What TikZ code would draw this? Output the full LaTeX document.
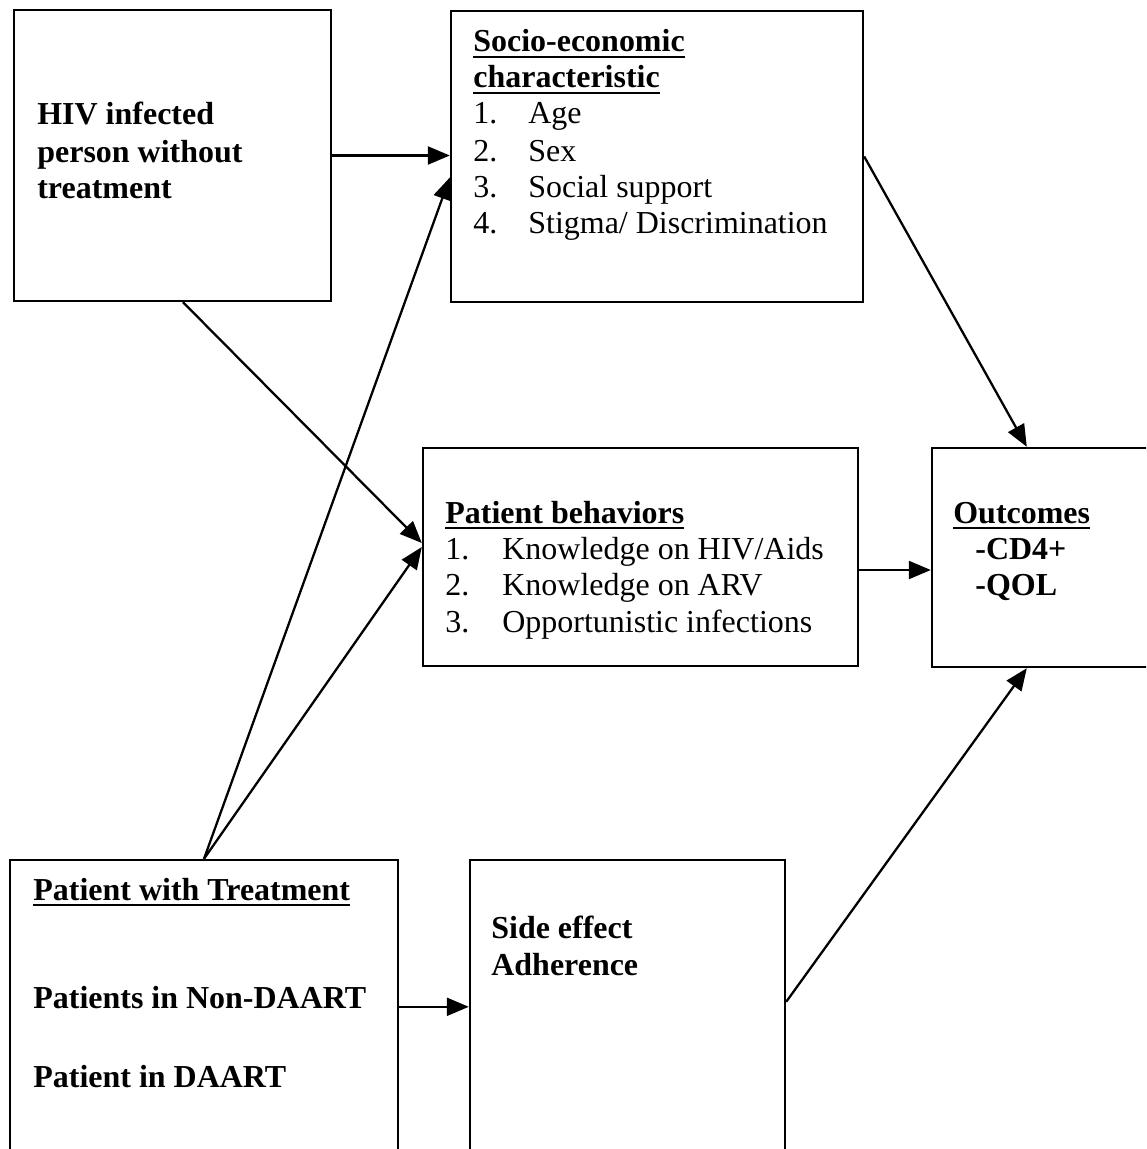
\documentclass[tikz,border=0pt]{standalone}
\usepackage{fontspec}
\setmainfont{Liberation Serif}
\usetikzlibrary{arrows.meta,calc}
\newcommand\hdul[1]{\sbox0{#1}\rlap{\rule[-3.6pt]{\wd0}{1.6pt}}\usebox0}
\begin{document}
\begin{tikzpicture}[x=0.02cm,y=-0.02cm,
  box/.style={draw, line width=1.4pt, inner sep=0},
  txt/.style={anchor=base west, inner sep=0, font=\fontsize{18.2}{21}\selectfont},
  btxt/.style={anchor=base west, inner sep=0, font=\fontsize{18.2}{21}\selectfont\bfseries},
  conn/.style={line width=1.3pt, -{Triangle[length=0.44cm,width=0.36cm]}}]
\useasboundingbox (0,0) rectangle (1146,1149);
\clip (0,0) rectangle (1146,1149);
% boxes
\node[box, minimum width=6.34cm, minimum height=5.82cm] (A) at (172.5,155.5) {};
\node[box, minimum width=8.24cm, minimum height=5.82cm] (B) at (657,156.5) {};
\node[box, minimum width=8.7cm, minimum height=4.36cm] (C) at (640.5,557) {};
\node[box, minimum width=4.76cm, minimum height=4.38cm] (D) at (1051,557.5) {};
\node[box, minimum width=7.76cm, minimum height=6.2cm] (E) at (204,1015) {};
\node[box, minimum width=6.3cm, minimum height=6.2cm] (F) at (627.5,1015) {};
% texts A
\node[btxt] (a1) at (37,125) {HIV infected};
\node[btxt] (a2) at (37,162) {person without};
\node[btxt] (a3) at (37,198) {treatment};
% texts B
\node[btxt] (b0) at (473,52) {\hdul{Socio-economic}};
\node[btxt] (b00) at (473,88) {\hdul{characteristic}};
\node[txt] (bn1) at (473,124) {1.};
\node[txt] (bi1) at (528,124) {Age};
\node[txt] (bn2) at (473,161) {2.};
\node[txt] (bi2) at (528,161) {Sex};
\node[txt] (bn3) at (473,197) {3.};
\node[txt] (bi3) at (528,197) {Social support};
\node[txt] (bn4) at (473,233) {4.};
\node[txt] (bi4) at (528,233) {Stigma/ Discrimination};
% texts C
\node[btxt] (c0) at (445,523) {\hdul{Patient behaviors}};
\node[txt] (cn1) at (445,559) {1.};
\node[txt] (ci1) at (502,559) {Knowledge on HIV/Aids};
\node[txt] (cn2) at (445,595) {2.};
\node[txt] (ci2) at (502,595) {Knowledge on ARV};
\node[txt] (cn3) at (445,632) {3.};
\node[txt] (ci3) at (502,632) {Opportunistic infections};
% texts D
\node[btxt] (d0) at (953,523) {\hdul{Outcomes}};
\node[btxt] (d1) at (975,559) {-CD4+};
\node[btxt] (d2) at (975,595) {-QOL};
% texts E
\node[btxt] (e0) at (33,900) {\hdul{Patient with Treatment}};
\node[btxt] (e1) at (33,1008) {Patients in Non-DAART};
\node[btxt] (e2) at (33,1087) {Patient in DAART};
% texts F
\node[btxt] (f1) at (491,938) {Side effect};
\node[btxt] (f2) at (491,975) {Adherence};
% connectors
\draw[conn] (A.east) -- (A.east -| B.west);
\draw[conn] (E.north) -- ($(B.west)+(0,21)$);
\draw[conn] ($(A.south)+(10.5,0)$) -- ($(C.west)+(0,-14)$);
\draw[conn] (E.north) -- ($(C.west)+(0,-10)$);
\draw[conn] (B.east) -- ($(D.north west)+(96,0)$);
\coordinate (cd) at ($(C.east)+(0,13)$);
\draw[conn] (cd) -- (cd -| D.west);
\coordinate (ef) at ($(E.north east)+(0,148)$);
\draw[conn] (ef) -- (ef -| F.west);
\draw[conn] ($(F.north east)+(0,143)$) -- ($(D.south west)+(96,0)$);
\end{tikzpicture}
\end{document}
